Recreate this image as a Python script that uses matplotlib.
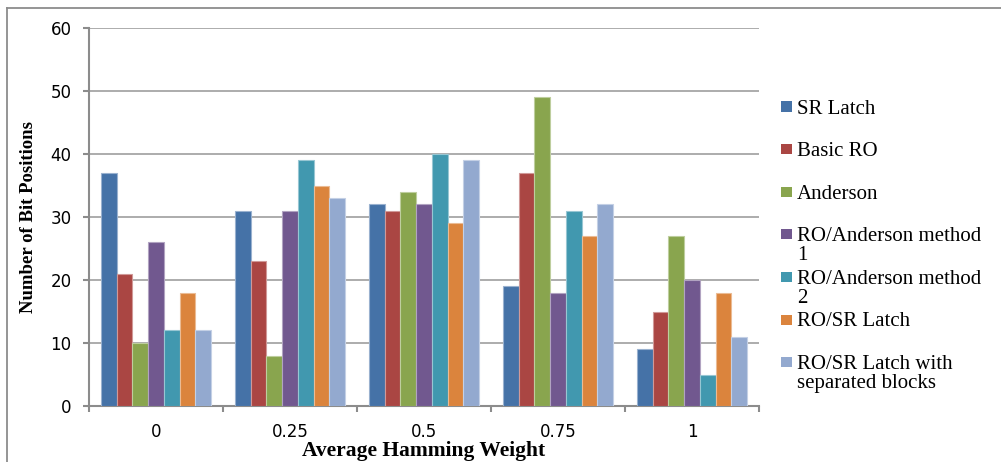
import numpy as np
import matplotlib
matplotlib.use("Agg")
import matplotlib.pyplot as plt
from matplotlib.patches import Rectangle
from matplotlib.lines import Line2D
from matplotlib.colors import to_rgb

categories = ["0", "0.25", "0.5", "0.75", "1"]
series_names = [
    "SR Latch",
    "Basic RO",
    "Anderson",
    "RO/Anderson method\n1",
    "RO/Anderson method\n2",
    "RO/SR Latch",
    "RO/SR Latch with\nseparated blocks",
]
sr_latch = [37, 31, 32, 19, 9]
basic_ro = [21, 23, 31, 37, 15]
anderson = [10, 8, 34, 49, 27]
ro_anderson_1 = [26, 31, 32, 18, 20]
ro_anderson_2 = [12, 39, 40, 31, 5]
ro_sr_latch = [18, 35, 29, 27, 18]
ro_sr_separated = [12, 33, 39, 32, 11]
colors = ["#4572A7", "#AA4643", "#89A54E", "#71588F", "#4198AF", "#DB843D", "#93A9CF"]

values = [sr_latch, basic_ro, anderson, ro_anderson_1, ro_anderson_2,
          ro_sr_latch, ro_sr_separated]


def lighter(c, amount=0.45):
    r, g, b = to_rgb(c)
    return (r + (1 - r) * amount, g + (1 - g) * amount, b + (1 - b) * amount)


W, H = 1001, 462
fig = plt.figure(figsize=(W / 100, H / 100), dpi=100)
ax = fig.add_axes([89 / W, 1 - 406 / H, (759 - 89) / W, (406 - 28) / H])

n = len(values)
gap = 1.5
width = 1 / (n + gap)
x = np.arange(len(categories))
for i, (vals, col) in enumerate(zip(values, colors)):
    offs = (i - (n - 1) / 2) * width
    ax.bar(x + offs, vals, width, color=col, edgecolor=lighter(col),
           linewidth=0.8, zorder=3)

ax.set_xlim(-0.5, len(categories) - 0.5)
ax.set_ylim(0, 60)
ax.set_yticks(range(0, 61, 10))
ax.yaxis.grid(True, color="#a6a6a6", linewidth=1.3, zorder=0)
ax.set_axisbelow(True)

for side in ["top", "right"]:
    ax.spines[side].set_visible(False)
for side in ["left", "bottom"]:
    ax.spines[side].set_color("#8c8c8c")
    ax.spines[side].set_linewidth(1.5)

ax.set_xticks(x)
ax.set_xticklabels(categories)
ax.set_xticks(np.arange(len(categories) + 1) - 0.5, minor=True)
ax.tick_params(axis="x", which="major", length=0, pad=12, labelsize=12)
ax.tick_params(axis="x", which="minor", length=4, width=1.5, color="#8c8c8c")
ax.tick_params(axis="y", length=4.5, width=1.5, color="#8c8c8c", pad=8, labelsize=12)

serif = "Liberation Serif"
ax.set_xlabel("Average Hamming Weight", family=serif, fontweight="bold",
              fontsize=15.5, labelpad=0)
ax.set_ylabel("Number of Bit Positions", family=serif, fontweight="bold",
              fontsize=13.5, labelpad=10)

# legend laid out by hand: first lines evenly spaced, wrapped lines hang below
top_y = 106.5
step = 42.6
for i, (name, col) in enumerate(zip(series_names, colors)):
    yc = top_y + i * step
    fig.patches.append(Rectangle((781 / W, 1 - (yc + 5) / H), 11 / W, 10 / H,
                                 transform=fig.transFigure, facecolor=col,
                                 edgecolor="none"))
    fig.text(797 / W, 1 - (yc - 7) / H, name, family=serif, fontsize=15,
             va="top", ha="left", linespacing=0.98)

# outer chart frame
fig.lines.append(Line2D([6.5 / W, 6.5 / W], [0, 1 - 7.5 / H], transform=fig.transFigure,
                        color="#8c8c8c", linewidth=1.3))
fig.lines.append(Line2D([6.5 / W, 1], [1 - 7.5 / H, 1 - 7.5 / H], transform=fig.transFigure,
                        color="#8c8c8c", linewidth=1.3))

fig.savefig("out.png", dpi=100)
